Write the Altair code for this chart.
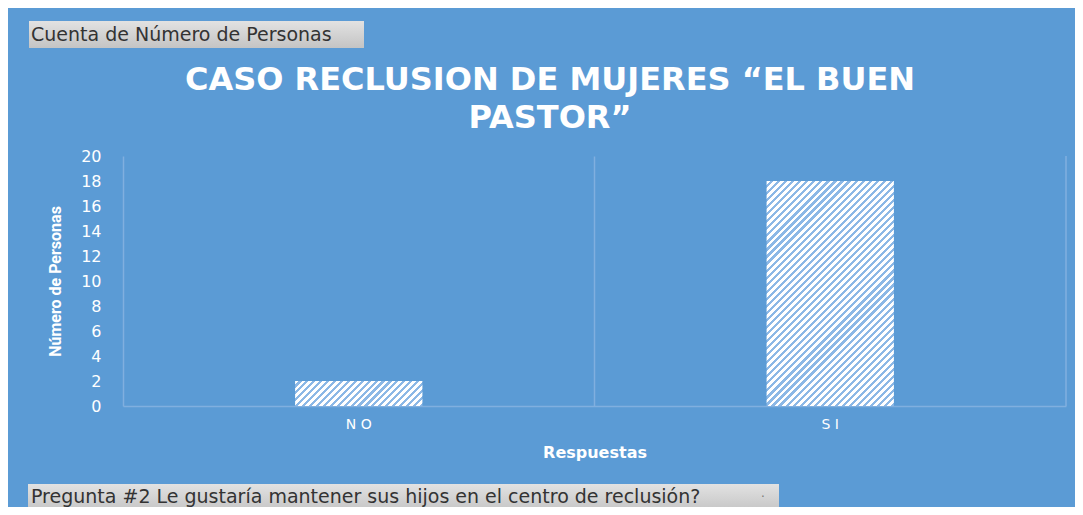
import math
import altair as alt
import pandas as pd

# ---- data ----
categories = ["NO", "SI"]
counts = [2, 18]
y_ticks = [0, 2, 4, 6, 8, 10, 12, 14, 16, 18, 20]
title_lines = ["CASO RECLUSION DE MUJERES “EL BUEN", "PASTOR”"]
x_title = "Respuestas"
y_title = "Número de Personas"
filter_label = "Cuenta de Número de Personas"
question_label = "Pregunta #2 Le gustaría mantener sus hijos en el centro de reclusión?"

# ---- layout / style ----
W, H = 943, 250
Y_MAX = 20
BAR_FRAC = 0.27
BG = "#5B9BD5"
LINE = "#80AFDF"
STRIPE = "#8CB8E6"
H_PERIOD = 7.0
WIDE = "DejaVu Sans"

df = pd.DataFrame({"Respuesta": categories, "Personas": counts})
one = pd.DataFrame({"k": [0]})


def hatch(value):
    bw = W / len(categories) * BAR_FRAC
    bh = max(value / Y_MAX * H, 1)
    s = (bw + bh) * bw / (bw * bw + bh * bh)
    n = max(1, round((bw + bh) / H_PERIOD))
    stops = []
    for k in range(n):
        a, b, c = k / n, (k + 0.55) / n, min((k + 1) / n, 1.0)
        stops += [
            alt.GradientStop(offset=a, color="white"),
            alt.GradientStop(offset=b, color="white"),
            alt.GradientStop(offset=b, color=STRIPE),
            alt.GradientStop(offset=c, color=STRIPE),
        ]
    return alt.LinearGradient(gradient="linear", stops=stops, x1=0, y1=0, x2=s, y2=s * bh / bw)


x_enc = alt.X(
    "Respuesta:N",
    sort=categories,
    scale=alt.Scale(paddingInner=0, paddingOuter=0),
    axis=alt.Axis(
        title=x_title,
        labelAngle=0,
        labelColor="white",
        labelFont=WIDE,
        labelFontSize=14,
        labelPadding=11,
        labelExpr="join(split(datum.label, ''), ' ')",
        ticks=False,
        domainColor=LINE,
        domainWidth=1.5,
        grid=True,
        gridColor=LINE,
        gridWidth=1.5,
        bandPosition=0,
        titleColor="white",
        titleFont=WIDE,
        titleFontSize=16,
        titleFontWeight="bold",
        titleY=46,
        titleBaseline="middle",
    ),
)
y_enc = alt.Y(
    "Personas:Q",
    scale=alt.Scale(domain=[0, Y_MAX]),
    axis=alt.Axis(
        values=y_ticks,
        domain=False,
        ticks=False,
        grid=False,
        labelPadding=22,
        labelColor="white",
        labelFont=WIDE,
        labelFontSize=16,
        title=y_title,
        titleColor="white",
        titleFont="Roboto",
        titleFontWeight="bold",
        titleFontSize=16,
        titleAngle=270,
        titleX=-68,
        titleY=H / 2,
        titleAlign="center",
        titleBaseline="middle",
    ),
)

base = alt.Chart(df)
bar_layers = [
    base.transform_filter(alt.datum.Respuesta == cat)
    .mark_bar(width=alt.RelativeBandSize(BAR_FRAC), fill=hatch(val), strokeWidth=0)
    .encode(x=x_enc, y=y_enc)
    for cat, val in zip(categories, counts)
]

right_rule = alt.Chart(one).mark_rule(color=LINE, strokeWidth=1.5).encode(
    x=alt.value(W), y=alt.value(0), y2=alt.value(H)
)

title_txt = alt.Chart(one).mark_text(
    text=title_lines,
    align="center",
    baseline="alphabetic",
    font=WIDE,
    fontSize=32,
    fontWeight="bold",
    color="white",
    lineHeight=38,
).encode(x=alt.value(427), y=alt.value(-66))

btn_fill = alt.LinearGradient(
    gradient="linear",
    stops=[alt.GradientStop(offset=0, color="#E2E2E2"), alt.GradientStop(offset=1, color="#C4C4C4")],
    x1=0, y1=0, x2=0, y2=1,
)

top_btn = alt.Chart(one).mark_rect(fill=btn_fill).encode(
    x=alt.value(-94), x2=alt.value(241), y=alt.value(-135), y2=alt.value(-108)
)
top_txt = alt.Chart(one).mark_text(
    text=filter_label, align="left", baseline="middle", font=WIDE, fontSize=19, color="#333333"
).encode(x=alt.value(-92), y=alt.value(-121))

bot_btn = alt.Chart(one).mark_rect(fill=btn_fill).encode(
    x=alt.value(-95), x2=alt.value(656), y=alt.value(328), y2=alt.value(356)
)
bot_txt = alt.Chart(one).mark_text(
    text=question_label, align="left", baseline="middle", font=WIDE, fontSize=19, color="#333333"
).encode(x=alt.value(-92), y=alt.value(341))
bot_dot = alt.Chart(one).mark_text(
    text="·", align="center", baseline="middle", font=WIDE, fontSize=12, color="#777777"
).encode(x=alt.value(640), y=alt.value(341))

chart = (
    alt.layer(*bar_layers, right_rule, title_txt, top_btn, top_txt, bot_btn, bot_txt, bot_dot)
    .properties(
        width=W,
        height=H,
        padding={"left": 115, "top": 148, "right": 9, "bottom": 101},
        autosize=alt.AutoSizeParams(type="none"),
        background=BG,
    )
    .configure_view(stroke=None)
)

chart.save("out.html", embed_options={"renderer": "svg", "actions": False})
